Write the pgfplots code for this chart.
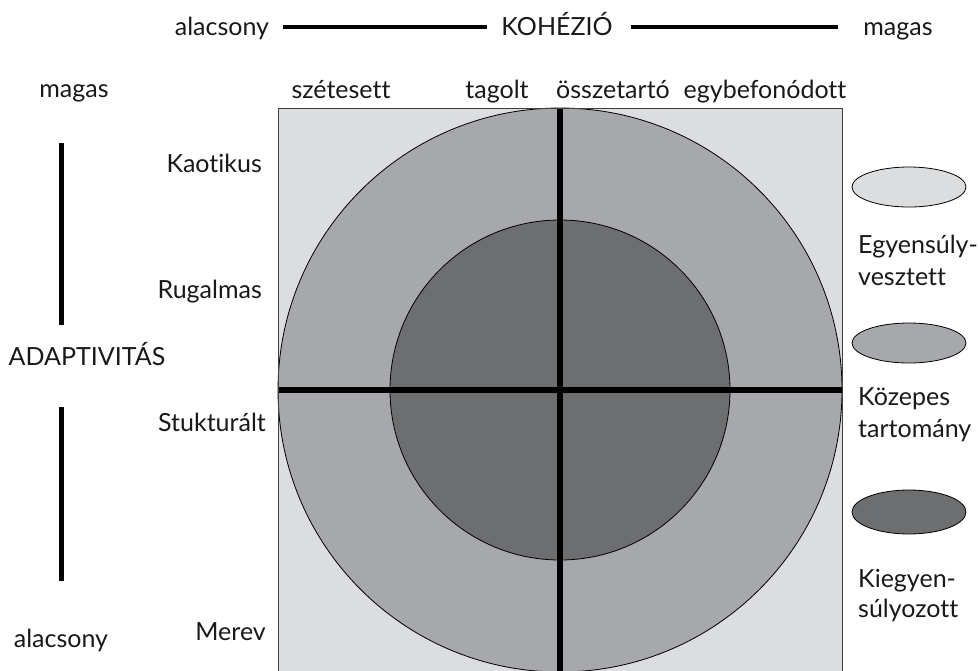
\documentclass[border=0pt]{standalone}
\usepackage{pgfplots}
\pgfplotsset{compat=1.18}
\usepackage{fontspec}
\setmainfont[Ligatures=NoCommon]{Lato}
\definecolor{cLight}{HTML}{DCDDDF}
\definecolor{cMid}{HTML}{A7A8AB}
\definecolor{cDark}{HTML}{6D6E70}
\tikzset{lab/.style={font=\fontsize{25}{30}\selectfont,inner sep=0pt,text=black!90}}
\begin{document}
\begin{tikzpicture}
\begin{axis}[width=979pt,height=670pt,scale only axis,
  xmin=0,xmax=979,ymin=0,ymax=670,y dir=reverse,hide axis,clip=false]
% background square
\fill[cLight] (axis cs:278,108) rectangle (axis cs:842,672);
% outer and inner circles
\filldraw[fill=cMid,draw=black,line width=0.8pt] (axis cs:560,390) circle[radius=282];
\filldraw[fill=cDark,draw=black,line width=0.8pt] (axis cs:560,390) circle[radius=170];
% cross
\addplot[black,line width=5.5pt] coordinates {(278,390) (842,390)};
\addplot[black,line width=5.5pt] coordinates {(560,108) (560,672)};
\draw[black!75,line width=1pt] (axis cs:278,108) rectangle (axis cs:842,672);
% top header
\addplot[black,line width=4.5pt] coordinates {(283,27) (487,27)};
\addplot[black,line width=4.5pt] coordinates {(631,27) (838,27)};
\node[anchor=base,lab] at (axis cs:222,35) {alacsony};
\node[anchor=base,lab] at (axis cs:557,35) {KOHÉZIÓ};
\node[anchor=base,lab] at (axis cs:898,35) {magas};
% column labels
\node[anchor=base,lab] at (axis cs:341,98) {szétesett};
\node[anchor=base,lab] at (axis cs:497,98) {tagolt};
\node[anchor=base,lab] at (axis cs:613,98) {összetartó};
\node[anchor=base,lab] at (axis cs:765,98) {egybefonódott};
% left axis
\node[anchor=base,lab] at (axis cs:74,97) {magas};
\addplot[black,line width=5pt] coordinates {(61,143) (61,325)};
\node[anchor=base,lab] at (axis cs:87,365) {ADAPTIVITÁS};
\addplot[black,line width=5pt] coordinates {(61,407) (61,581)};
\node[anchor=base,lab] at (axis cs:61,647) {alacsony};
% row labels
\node[anchor=base east,lab] at (axis cs:262,172) {Kaotikus};
\node[anchor=base east,lab] at (axis cs:262,298) {Rugalmas};
\node[anchor=base east,lab] at (axis cs:266,431) {Stukturált};
\node[anchor=base east,lab] at (axis cs:266,640) {Merev};
% legend
\filldraw[fill=cLight,draw=black,line width=0.8pt] (axis cs:909,187) ellipse[x radius=57,y radius=20];
\filldraw[fill=cMid,draw=black,line width=0.8pt] (axis cs:909,343) ellipse[x radius=57,y radius=20];
\filldraw[fill=cDark,draw=black,line width=0.8pt] (axis cs:909,512) ellipse[x radius=57,y radius=22];
\node[anchor=base west,lab] at (axis cs:858,253) {Egyensúly-};
\node[anchor=base west,lab] at (axis cs:858,285) {vesztett};
\node[anchor=base west,lab] at (axis cs:858,405) {Közepes};
\node[anchor=base west,lab] at (axis cs:858,437) {tartomány};
\node[anchor=base west,lab] at (axis cs:858,587) {Kiegyen-};
\node[anchor=base west,lab] at (axis cs:858,617) {súlyozott};
\end{axis}
\pgfresetboundingbox
\path (current axis.south west) rectangle (current axis.north east);
\end{tikzpicture}
\end{document}
